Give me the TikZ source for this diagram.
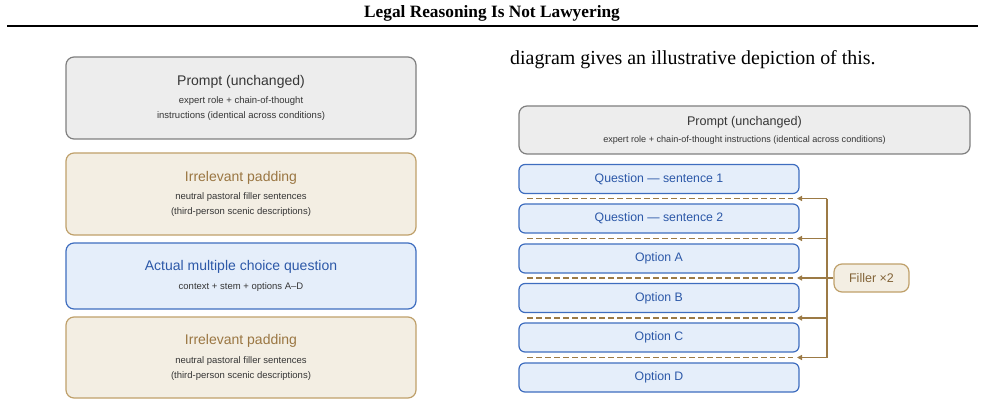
\documentclass[tikz,border=0pt]{standalone}
\usepackage{fontspec}
\setmainfont{Liberation Serif}
\newfontfamily\boxfont{Liberation Sans}
\usetikzlibrary{arrows.meta,calc}

\definecolor{greyfill}{HTML}{EDEDED}
\definecolor{greyline}{HTML}{7F7F7F}
\definecolor{tanfill}{HTML}{F3EEE3}
\definecolor{tanline}{HTML}{BFA06A}
\definecolor{tantext}{HTML}{9A7642}
\definecolor{bluefill}{HTML}{E5EEFA}
\definecolor{blueline}{HTML}{3E6DBF}
\definecolor{bluetext}{HTML}{2C58A8}
\definecolor{inktext}{HTML}{363636}
\definecolor{feedtan}{HTML}{9C7A45}

\newcommand{\bigtitle}{\fontsize{14}{17}\selectfont}
\newcommand{\smalltext}{\fontsize{9.5}{15}\selectfont}

\begin{document}
\begin{tikzpicture}[x=1pt,y=-1pt,>={Triangle[length=5pt,width=5pt]},
    stackbox/.style={rounded corners=8pt, line width=1.2pt, align=center,
      font=\boxfont\smalltext, text=inktext, inner sep=0pt},
    greybox/.style={stackbox, draw=greyline, fill=greyfill},
    padbox/.style={stackbox, draw=tanline, fill=tanfill},
    mcqbox/.style={stackbox, draw=blueline, fill=bluefill},
    partbox/.style={rounded corners=6pt, line width=1.2pt, draw=blueline, fill=bluefill,
      text=bluetext, font=\boxfont\fontsize{12.3}{14}\selectfont,
      minimum width=280pt, minimum height=29pt, inner sep=0pt},
    fillerbox/.style={rounded corners=8pt, line width=1.2pt, draw=tanline, fill=tanfill,
      text=tantext!85!black, font=\boxfont\fontsize{12.5}{14}\selectfont,
      minimum width=75pt, minimum height=28pt, inner sep=0pt},
    sepline/.style={feedtan, line width=1.5pt, dash pattern=on 5.5pt off 3.5pt},
    feed/.style={feedtan, line width=1.4pt}]
    \useasboundingbox (0,0) rectangle (985,417);

    % Page header and rule
    \node[anchor=base, inner sep=0pt, font=\bfseries\fontsize{17.3}{20}\selectfont] (header) at (492,18) {Legal Reasoning Is Not Lawyering};
    \draw[line width=1.7pt] (7,26) -- (978,26);

    % Body text above the right diagram
    \node[anchor=base west, inner sep=0pt, font=\fontsize{19.9}{24}\selectfont] (bodyline) at (510,65) {diagram gives an illustrative depiction of this.};

    % Left stack: padding around the question
    \node[greybox, minimum width=350pt, minimum height=82pt] (lprompt) at (241,98)
      {{\bigtitle Prompt (unchanged)}\\[3.5pt] expert role + chain-of-thought\\ instructions (identical across conditions)};
    \node[padbox, minimum width=350pt, minimum height=82pt] (padtop) at (241,194)
      {{\bigtitle\color{tantext} Irrelevant padding}\\[3.5pt] neutral pastoral filler sentences\\ (third-person scenic descriptions)};
    \node[mcqbox, minimum width=350pt, minimum height=66pt] (mcq) at (241,276)
      {{\bigtitle\color{bluetext} Actual multiple choice question}\\[3.5pt] context + stem + options A–D};
    \node[padbox, minimum width=350pt, minimum height=81pt] (padbot) at (241,357.5)
      {{\bigtitle\color{tantext} Irrelevant padding}\\[3.5pt] neutral pastoral filler sentences\\ (third-person scenic descriptions)};

    % Right stack: filler between every part
    \node[greybox, minimum width=451pt, minimum height=48pt, font=\boxfont\fontsize{9.1}{11}\selectfont] (rprompt) at (744.5,130)
      {{\fontsize{12.6}{15}\selectfont Prompt (unchanged)}\\[5.8pt] expert role + chain-of-thought instructions (identical across conditions)};
    \node[partbox] (qone) at (659,179) {Question — sentence 1};
    \node[partbox] (qtwo) at (659,218.5) {Question — sentence 2};
    \node[partbox] (opta) at (659,258.5) {Option A};
    \node[partbox] (optb) at (659,298) {Option B};
    \node[partbox] (optc) at (659,337.5) {Option C};
    \node[partbox] (optd) at (659,377.5) {Option D};

    % Dashed insertion points
    \foreach \k/\y in {1/198.5,2/238.5,3/278,4/318,5/357.5} {
      \coordinate (sep\k) at (527,\y);
      \coordinate (tip\k) at (797,\y);
      \coordinate (bus\k) at (827,\y);
      \draw[sepline] (sep\k) -- ($(tip\k)+(-4,0)$);
    }

    % Filler feed
    \node[fillerbox] (filler) at (871.5,278) {Filler ×2};
    \draw[feed] (bus1) -- (bus5);
    \draw[feed,->] (bus1) -- (tip1);
    \draw[feed,->] (bus2) -- (tip2);
    \draw[feed,->] (filler.west) -- (tip3);
    \draw[feed,->] (bus4) -- (tip4);
    \draw[feed,->] (bus5) -- (tip5);
\end{tikzpicture}
\end{document}
